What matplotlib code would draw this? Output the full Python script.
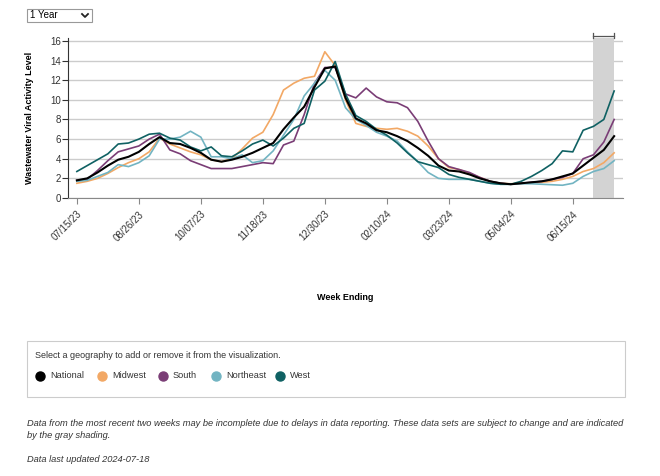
import matplotlib
matplotlib.use("Agg")
import matplotlib.pyplot as plt
import matplotlib.dates as mdates
from matplotlib.lines import Line2D
from matplotlib.patches import Rectangle
import pandas as pd

plt.rcParams["font.family"] = ["Liberation Sans", "DejaVu Sans"]

# weekly values, 07/15/23 .. 07/13/24
weeks = pd.date_range("2023-07-15", periods=53, freq="7D")
national = [1.8, 2.0, 2.6, 3.3, 3.9, 4.2, 4.7, 5.5, 6.2,
            5.6, 5.5, 5.1, 4.6, 3.9, 3.7, 3.9, 4.2, 4.6, 5.1,
            5.6, 7.0, 8.2, 9.3, 11.3, 13.2, 13.4, 10.2,
            8.1, 7.6, 6.9, 6.7, 6.3, 5.8, 5.1, 4.3, 3.3, 2.8,
            2.7, 2.4, 2.0, 1.7, 1.5, 1.4, 1.5, 1.6, 1.7, 1.9,
            2.2, 2.5, 3.3, 4.1, 4.9, 6.3]
midwest = [1.5, 1.7, 2.0, 2.5, 3.1, 3.6, 4.0, 4.7, 6.1,
           5.5, 5.1, 4.7, 4.4, 3.9, 3.7, 4.0, 5.0, 6.1, 6.7,
           8.5, 11.0, 11.7, 12.2, 12.4, 14.9, 13.5, 10.0,
           7.6, 7.3, 7.1, 7.0, 7.1, 6.8, 6.3, 5.3, 4.0, 3.1,
           2.9, 2.5, 2.1, 1.7, 1.5, 1.45, 1.5, 1.55, 1.6, 1.7,
           1.9, 2.2, 2.7, 3.0, 3.6, 4.6]
south = [1.8, 1.9, 2.8, 3.8, 4.7, 5.0, 5.3, 6.0, 6.5,
         4.9, 4.5, 3.8, 3.4, 3.0, 3.0, 3.0, 3.2, 3.4, 3.6,
         3.5, 5.4, 5.8, 8.5, 11.7, 13.3, 13.3, 10.6,
         10.2, 11.2, 10.3, 9.8, 9.7, 9.2, 7.8, 5.8, 4.0, 3.2,
         2.9, 2.6, 2.1, 1.7, 1.5, 1.4, 1.5, 1.6, 1.7, 1.9,
         2.1, 2.5, 4.0, 4.4, 5.7, 8.0]
northeast = [1.7, 1.8, 2.2, 2.6, 3.4, 3.2, 3.6, 4.3, 6.0,
             6.0, 6.2, 6.8, 6.2, 4.2, 4.2, 4.0, 4.4, 3.6, 3.8,
             4.8, 6.4, 8.0, 10.4, 11.7, 13.0, 12.0, 9.2,
             8.0, 7.4, 6.7, 6.3, 5.8, 4.7, 3.7, 2.6, 2.0, 1.9,
             1.9, 1.9, 1.7, 1.5, 1.4, 1.4, 1.45, 1.45, 1.4, 1.35,
             1.3, 1.5, 2.2, 2.7, 3.0, 3.8]
west = [2.7, 3.3, 3.9, 4.5, 5.5, 5.6, 6.0, 6.5, 6.6,
        6.1, 5.9, 5.2, 4.8, 5.2, 4.3, 4.2, 4.8, 5.5, 5.9,
        5.3, 6.1, 7.1, 7.6, 11.0, 11.9, 13.9, 10.6,
        8.4, 7.8, 7.0, 6.4, 5.6, 4.6, 3.7, 3.4, 3.1, 2.4,
        2.1, 1.9, 1.7, 1.5, 1.4, 1.4, 1.7, 2.2, 2.8, 3.5,
        4.8, 4.7, 6.9, 7.3, 8.0, 10.9]

series_names = ["National", "Midwest", "South", "Northeast", "West"]
series_colors = ["#000000", "#f2a865", "#7a3d76", "#72b4c2", "#0f6163"]
tick_dates = pd.date_range("2023-07-15", periods=9, freq="42D")
shade_start = pd.Timestamp("2024-06-29")
shade_end = pd.Timestamp("2024-07-13")

W, H = 660, 476


def fx(px):
    return px / W


def fy(py):
    return 1 - py / H


fig = plt.figure(figsize=(6.6, 4.76), dpi=100)
ax = fig.add_axes([fx(68), fy(198), fx(623) - fx(68), fy(38) - fy(198)])

data = dict(zip(series_names, [national, midwest, south, northeast, west]))
colors = dict(zip(series_names, series_colors))
for name in ["Midwest", "South", "Northeast", "West"]:
    ax.plot(weeks, data[name], color=colors[name], lw=1.2, zorder=3,
            solid_joinstyle="round")
ax.plot(weeks, national, color=colors["National"], lw=1.5, zorder=4,
        solid_joinstyle="round")

# gray shading for incomplete recent data
s0, s1 = mdates.date2num(shade_start), mdates.date2num(shade_end)
ax.add_patch(Rectangle((s0, 0), s1 - s0, 16.25, color="#d3d3d3",
                       clip_on=False, zorder=1, lw=0))
ax.plot([s0, s1], [16.53, 16.53], color="#555555", lw=0.9, clip_on=False)
for s in (s0, s1):
    ax.plot([s, s], [16.25, 16.85], color="#555555", lw=0.9, clip_on=False)

pad = pd.Timedelta(days=6)
ax.set_xlim(weeks[0] - pad, weeks[-1] + pad)
ax.set_ylim(0, 16.3)
ax.set_yticks(range(0, 17, 2))
ax.set_xticks(tick_dates)
ax.set_xticklabels([d.strftime("%m/%d/%y") for d in tick_dates],
                   rotation=45, ha="right", va="top", rotation_mode="anchor")
ax.yaxis.grid(True, color="#cccccc", lw=1)
ax.set_axisbelow(True)
for side in ("top", "right"):
    ax.spines[side].set_visible(False)
ax.spines["left"].set_color("#333333")
ax.spines["bottom"].set_color("#888888")
ax.tick_params(axis="y", length=4, color="#333333", labelsize=7,
               labelcolor="#333333", pad=1)
ax.tick_params(axis="x", length=4, color="#888888", labelsize=7,
               labelcolor="#333333", pad=4)

fig.text(fx(30), fy(118), "Wastewater Viral Activity Level", rotation=90,
         ha="center", va="center", fontsize=6.5, fontweight="bold")
fig.text(fx(345), fy(297), "Week Ending", ha="center", va="center",
         fontsize=6.5, fontweight="bold")

# dropdown
fig.patches.append(Rectangle((fx(27), fy(22)), fx(92) - fx(27), fy(9) - fy(22),
                             transform=fig.transFigure, fill=False,
                             edgecolor="#999999", lw=0.8))
fig.text(fx(30), fy(15.5), "1 Year", ha="left", va="center", fontsize=7)
fig.lines.append(Line2D([fx(82), fx(85), fx(88)], [fy(14), fy(17), fy(14)],
                        transform=fig.transFigure, color="#222222", lw=1.3))

# geography selector box
fig.patches.append(Rectangle((fx(27), fy(397)), fx(625) - fx(27), fy(341) - fy(397),
                             transform=fig.transFigure, fill=False,
                             edgecolor="#cccccc", lw=0.8))
fig.text(fx(35), fy(356), "Select a geography to add or remove it from the visualization.",
         ha="left", va="center", fontsize=6.5, color="#333333")
legend_x = [40, 102, 163, 216, 280]
for name, x in zip(series_names, legend_x):
    fig.lines.append(Line2D([fx(x)], [fy(376)], transform=fig.transFigure,
                            marker="o", ms=6.5, color=colors[name], lw=0))
    fig.text(fx(x + 10), fy(376), name, ha="left", va="center",
             fontsize=6.6, color="#333333")

note_style = dict(ha="left", va="center", fontsize=6.7, color="#333333", style="italic")
fig.text(fx(27), fy(424), "Data from the most recent two weeks may be incomplete due to delays "
         "in data reporting. These data sets are subject to change and are indicated",
         **note_style)
fig.text(fx(27), fy(436), "by the gray shading.", **note_style)
fig.text(fx(27), fy(460), "Data last updated 2024-07-18", **note_style)

fig.savefig("out.png", dpi=100)
